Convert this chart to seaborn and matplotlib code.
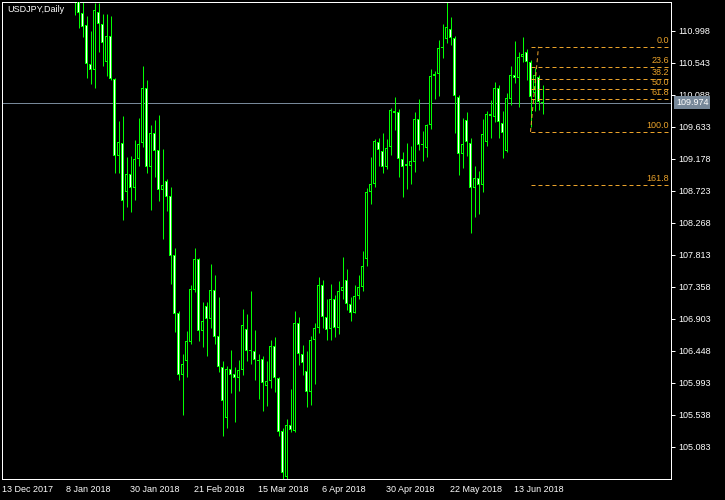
import numpy as np
import pandas as pd
import seaborn as sns
import matplotlib
matplotlib.use("Agg")
import matplotlib.pyplot as plt
import matplotlib.transforms as mtransforms

symbol = "USDJPY,Daily"

# daily bars, first visible bar is bar 18 (the ones before are above the window)
first_bar = 18
opens = [111.55, 111.50, 111.245, 111.08, 110.52, 110.435, 111.26, 111.09, 110.56, 110.92,
         110.31, 109.22, 109.40, 108.70, 108.96, 108.77, 109.18, 109.40, 110.18, 109.06,
         109.55, 109.30, 108.73, 108.86, 108.65, 107.81, 106.98, 106.10, 106.31, 106.57,
         107.31, 107.76, 106.73, 107.09, 106.90, 107.32, 106.66, 106.22, 105.49, 106.19,
         106.12, 106.06, 106.17, 106.76, 106.44, 106.45, 106.32, 106.34, 105.95, 106.02,
         106.52, 106.06, 105.31, 104.65, 105.39, 105.31, 106.84, 106.41, 106.16, 105.87,
         106.60, 106.77, 107.38, 106.93, 106.76, 107.19, 106.78, 107.30, 107.45, 107.11,
         106.99, 107.23, 107.35, 107.76, 108.70, 108.82, 109.41, 109.29, 109.06, 109.34,
         109.86, 109.84, 109.18, 109.08, 109.08, 109.13, 109.74, 109.38, 109.33, 109.66,
         110.35, 110.39, 110.75, 110.88, 111.02, 110.90, 110.05, 109.24, 109.73, 109.40,
         108.76, 108.90, 108.80, 109.42, 109.78, 109.77, 110.18, 109.68, 109.29, 110.03,
         110.37, 110.32, 110.62, 110.69, 110.55, 110.11, 110.34, 109.97]
highs = [111.70, 111.60, 111.40, 111.20, 110.99, 111.39, 111.39, 111.235, 111.235, 111.20,
         110.33, 109.72, 109.78, 109.21, 109.22, 109.44, 109.76, 110.50, 110.30, 109.66,
         109.73, 109.80, 109.32, 108.89, 108.78, 107.91, 107.02, 106.40, 106.73, 107.38,
         107.91, 107.77, 107.14, 107.14, 107.68, 107.53, 107.21, 106.30, 106.23, 106.46,
         106.22, 106.32, 107.04, 106.97, 107.30, 106.74, 106.41, 106.37, 106.30, 106.60,
         106.64, 106.08, 105.35, 105.48, 105.91, 107.01, 106.93, 106.53, 106.45, 106.66,
         106.84, 107.50, 107.46, 107.19, 107.40, 107.24, 107.44, 107.78, 107.61, 107.21,
         107.38, 107.53, 107.87, 108.77, 109.20, 109.46, 109.47, 109.54, 109.46, 109.90,
         110.05, 109.89, 109.27, 109.40, 109.36, 109.85, 110.03, 109.58, 109.67, 110.46,
         110.42, 110.87, 111.09, 111.40, 111.19, 110.92, 110.08, 109.76, 109.85, 109.47,
         109.07, 109.00, 109.74, 109.86, 110.01, 110.27, 110.22, 109.86, 110.12, 110.50,
         110.85, 110.70, 110.91, 110.74, 110.58, 110.47, 110.37, 110.23]
lows = [111.22, 111.04, 110.91, 110.33, 110.24, 110.19, 110.70, 110.49, 110.35, 110.30,
        108.97, 108.97, 108.31, 108.50, 108.42, 108.59, 109.07, 109.35, 108.98, 108.45,
        108.92, 108.58, 108.04, 108.43, 107.40, 106.72, 106.03, 105.54, 106.08, 106.54,
        107.28, 106.59, 106.51, 106.37, 106.77, 106.55, 106.15, 105.24, 105.35, 105.85,
        105.44, 105.88, 106.10, 106.31, 106.26, 106.04, 105.76, 105.60, 105.67, 105.92,
        105.87, 105.24, 104.63, 104.62, 105.30, 105.30, 106.25, 106.10, 105.65, 105.68,
        105.98, 106.70, 106.77, 106.60, 106.60, 106.65, 106.69, 107.19, 107.03, 106.88,
        106.98, 107.18, 107.30, 107.66, 108.54, 108.78, 109.07, 108.97, 109.03, 109.23,
        109.59, 108.92, 108.64, 108.75, 108.82, 108.99, 109.30, 109.15, 109.21, 109.60,
        110.03, 110.07, 110.61, 110.82, 110.79, 109.55, 108.95, 109.05, 109.22, 108.12,
        108.35, 108.39, 108.71, 109.36, 109.47, 109.70, 109.47, 109.19, 109.27, 109.94,
        110.25, 109.92, 110.55, 110.30, 109.63, 109.86, 109.87, 109.81]
closes = [111.50, 111.245, 111.055, 110.52, 110.435, 111.29, 111.09, 110.83, 110.92, 110.31,
          109.22, 109.41, 108.58, 108.96, 108.77, 109.18, 109.39, 110.18, 109.06, 109.55,
          109.29, 108.73, 108.80, 108.64, 107.80, 106.97, 106.10, 106.26, 106.59, 107.33,
          107.76, 106.73, 106.88, 106.90, 107.32, 106.65, 106.22, 105.73, 106.19, 106.10,
          106.06, 106.18, 106.81, 106.44, 106.45, 106.32, 106.30, 105.99, 106.02, 106.52,
          106.06, 105.30, 104.72, 105.40, 105.32, 106.84, 106.41, 106.27, 105.87, 106.60,
          106.77, 107.38, 106.93, 106.74, 107.19, 106.78, 107.30, 107.36, 107.11, 106.99,
          107.23, 107.36, 107.66, 108.70, 108.82, 109.43, 109.30, 109.06, 109.33, 109.87,
          109.83, 109.18, 109.06, 109.10, 109.14, 109.74, 109.37, 109.37, 109.66, 110.35,
          110.39, 110.75, 110.76, 111.05, 110.90, 110.07, 109.24, 109.39, 109.41, 108.76,
          108.90, 108.80, 109.53, 109.81, 109.81, 110.18, 109.70, 109.54, 110.04, 110.37,
          110.33, 110.62, 110.67, 110.55, 110.05, 110.37, 109.98, 109.974]

tick_bars = [0, 16, 32, 48, 64, 80, 96, 112, 128]
tick_dates = ["13 Dec 2017", "8 Jan 2018", "30 Jan 2018", "21 Feb 2018", "15 Mar 2018",
              "6 Apr 2018", "30 Apr 2018", "22 May 2018", "13 Jun 2018"]
price_ticks = [105.083, 105.538, 105.993, 106.448, 106.903, 107.358, 107.813,
               108.268, 108.723, 109.178, 109.633, 110.088, 110.543, 110.998]
last_price = 109.974

# fibonacci retracement drawn on the last bars
fib_bars = [132, 134]
fib_low = 109.56
fib_high = 110.77
fib_levels = [0.0, 23.6, 38.2, 50.0, 61.8, 100.0, 161.8]

df = pd.DataFrame({"open": opens, "high": highs, "low": lows, "close": closes})
df["bar"] = np.arange(first_bar, first_bar + len(df))
df["body_lo"] = df[["open", "close"]].min(axis=1)
df["body_hi"] = df[["open", "close"]].max(axis=1)
df["body"] = df["body_hi"] - df["body_lo"]
# MT4 green-on-black: bear candles white, bull candles black
df["fill"] = np.where(df["close"] >= df["open"], "black", "white")

sns.set_style("dark", {"axes.facecolor": "black", "figure.facecolor": "black",
                       "axes.edgecolor": "white", "axes.grid": False,
                       "xtick.color": "white", "ytick.color": "white",
                       "text.color": "white"})
plt.rcParams["font.family"] = ["Liberation Sans", "DejaVu Sans"]

green = "#00ff00"
fib_color = "#eaa22a"
fs = 6.5
px = 0.72  # one pixel in points at dpi 100

fig = plt.figure(figsize=(7.25, 5.0), dpi=100)
ax = fig.add_axes([2 / 725, 21 / 500, 669 / 725, 477 / 500])
ax.set_xlim(-0.125, 167.125)
ax.set_ylim(104.628, 111.406)
one_px = (111.406 - 104.628) / 477

# current price line
ax.axhline(last_price, color="#778899", lw=px, snap=True, zorder=1)

# candles: wick, green body, then 1px inner fill
ax.vlines(df["bar"], df["low"], df["high"], color=green, lw=px, snap=True, zorder=2)
ax.bar(df["bar"], df["body"].clip(lower=one_px), bottom=df["body_lo"], width=0.75,
       color=green, linewidth=0, snap=True, zorder=3)
inner = df[df["body"] > 2.5 * one_px]
ax.bar(inner["bar"], inner["body"] - 2 * one_px, bottom=inner["body_lo"] + one_px, width=0.25,
       color=inner["fill"], linewidth=0, snap=True, zorder=4)

# fibonacci levels
blend = mtransforms.blended_transform_factory(ax.transAxes, ax.transData)
fib_prices = [fib_high - lvl / 100 * (fib_high - fib_low) for lvl in fib_levels]
for pr in fib_prices:
    ax.plot([fib_bars[0], ax.get_xlim()[1]], [pr, pr], color=fib_color, lw=px,
            ls=(0, (4, 3)), snap=True, zorder=5)
ax.plot(fib_bars, [fib_low, fib_high], color=fib_color, lw=px, ls=(0, (4, 3)), zorder=5)
for lvl, pr in zip(fib_levels, fib_prices):
    ax.text(0.997, pr + 2 * one_px, f"{lvl:.1f}", transform=blend, ha="right", va="bottom",
            color=fib_color, fontsize=fs)

# axes / ticks
ax.yaxis.tick_right()
ax.set_yticks(price_ticks)
ax.set_yticklabels([f"{p:.3f}" for p in price_ticks])
ax.set_xticks(tick_bars)
ax.set_xticklabels(tick_dates, ha="left")
ax.tick_params(axis="y", direction="out", length=3, width=px, pad=2, labelsize=fs, colors="white")
ax.tick_params(axis="x", direction="out", length=4, width=px, pad=0.5, labelsize=fs, colors="white")
for s in ax.spines.values():
    s.set_color("white")
    s.set_linewidth(px)

ax.text(0.0075, 0.993, symbol, transform=ax.transAxes, ha="left", va="top",
        color="white", fontsize=fs)

# last price tag on the scale
ax.text(1.0075, last_price, f"{last_price:.3f}", transform=blend, ha="left", va="center",
        color="white", fontsize=fs, clip_on=False, zorder=10,
        bbox=dict(boxstyle="square,pad=0.2", facecolor="#778899", edgecolor="none"))

fig.savefig("out.png", dpi=100, facecolor="black")
